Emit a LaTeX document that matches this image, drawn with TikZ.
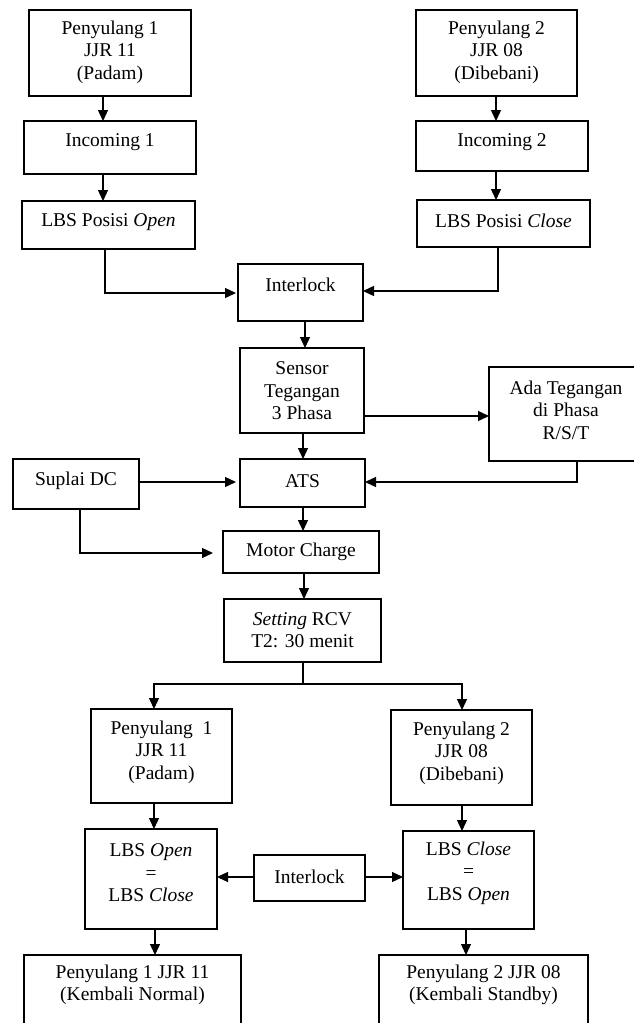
\documentclass[tikz,border=0pt]{standalone}
\usepackage{fontspec}
\setmainfont{Liberation Serif}
\usetikzlibrary{arrows.meta}
\newcommand\mybox[7]{%
 \pgfmathsetmacro\mbw{#4-#2}\pgfmathsetmacro\mbh{#5-#3}%
 \pgfmathsetmacro\mcx{(#2+#4)/2}\pgfmathsetmacro\mcy{(#3+#5)/2}%
 \node[box,minimum width=\mbw pt,minimum height=\mbh pt] (#1) at (\mcx,\mcy) {};%
 \node[txt] (#1t) at (\mcx,#6) {#7};}
\begin{document}
\begin{tikzpicture}[x=1pt,y=-1pt,
  box/.style={draw,line width=1.3pt,inner sep=0pt,outer sep=0pt,rectangle},
  txt/.style={align=center,inner sep=0pt,font=\fontsize{19.5}{22.5}\selectfont},
  arr/.style={line width=1.3pt,-{Triangle[length=11pt,width=10pt]}},
  ln/.style={line width=1.3pt}]
\useasboundingbox[fill=white] (0,0) rectangle (633,1023);
% top
\mybox{P1}{29}{10}{191}{96}{52}{Penyulang 1\\JJR 11\\(Padam)}
\mybox{In1}{24}{121}{196}{174}{142}{Incoming 1}
\mybox{LBSo}{22}{201}{195}{249}{222}{LBS Posisi \textit{Open}}
\mybox{P2}{416}{10}{577}{96}{52}{Penyulang 2\\JJR 08\\(Dibebani)}
\mybox{In2}{416}{121}{588}{171}{142}{Incoming 2}
\mybox{LBSc}{417}{200}{590}{247}{221}{LBS Posisi \textit{Close}}
\mybox{IL}{238}{264}{363}{321}{285}{Interlock}
\mybox{Sens}{240}{348}{364}{433}{391}{Sensor\\Tegangan\\3 Phasa}
\mybox{Ada}{489}{367}{643}{461}{410}{Ada Tegangan\\di Phasa\\R/S/T}
\mybox{Sup}{13}{459}{139}{509}{481}{Suplai DC}
\mybox{ATS}{240}{459}{365}{507}{481}{ATS}
\mybox{MC}{223}{531}{379}{573}{552}{Motor Charge}
\mybox{Set}{224}{599}{381}{662}{630}{\textit{Setting} RCV\\T2: 30 menit}
\mybox{P1L}{91}{709}{232}{803}{752}{Penyulang \ 1\\JJR 11\\(Padam)}
\mybox{P2L}{391}{710}{532}{805}{753}{Penyulang 2\\JJR 08\\(Dibebani)}
\mybox{LO}{85}{829}{217}{929}{873}{LBS \textit{Open}\\=\\LBS \textit{Close}}
\mybox{IL2}{254}{855}{365}{901}{877}{Interlock}
\mybox{LC}{403}{831}{534}{929}{873}{LBS \textit{Close}\\=\\LBS \textit{Open}}
\mybox{B1}{24}{955}{241}{1045}{985}{Penyulang 1 JJR 11\\(Kembali Normal)}
\mybox{B2}{379}{955}{588}{1045}{985}{Penyulang 2 JJR 08\\(Kembali Standby)}
% helper coordinates
\coordinate (x103) at (103,0);
\coordinate (x105) at (105,0);
\coordinate (x496) at (496,0);
\coordinate (x498) at (498,0);
\coordinate (x305) at (305,0);
\coordinate (x303) at (303,0);
\coordinate (x304) at (304,0);
\coordinate (x80) at (80,0);
\coordinate (x577) at (577,0);
\coordinate (x154) at (154,0);
\coordinate (x155) at (155,0);
\coordinate (x462) at (462,0);
\coordinate (x466) at (466,0);
\coordinate (y293) at (0,293);
\coordinate (y291) at (0,291);
\coordinate (y416) at (0,416);
\coordinate (y482) at (0,482);
\coordinate (y553) at (0,553);
\coordinate (y877) at (0,877);
\coordinate (split) at (303,684);
% connectors
\draw[arr] (P1.south -| x103) -- (In1.north -| x103);
\draw[arr] (In1.south -| x103) -- (LBSo.north -| x103);
\draw[arr] (P2.south -| x496) -- (In2.north -| x496);
\draw[arr] (In2.south -| x496) -- (LBSc.north -| x496);
\draw[arr,shorten >=2pt] (LBSo.south -| x105) |- (IL.west |- y293);
\draw[arr] (LBSc.south -| x498) |- (IL.east |- y291);
\draw[arr] (IL.south -| x305) -- (Sens.north -| x305);
\draw[arr] (Sens.east |- y416) -- (Ada.west |- y416);
\draw[arr] (Sens.south -| x303) -- (ATS.north -| x303);
\draw[arr,shorten >=4pt] (Sup.east |- y482) -- (ATS.west |- y482);
\draw[arr] (Ada.south -| x577) |- (ATS.east |- y482);
\draw[arr,shorten >=10pt] (Sup.south -| x80) |- (MC.west |- y553);
\draw[arr] (ATS.south -| x303) -- (MC.north -| x303);
\draw[arr] (MC.south -| x304) -- (Set.north -| x304);
\draw[ln] (Set.south -| split) -- (split);
\draw[arr] (split) -| (P1L.north -| x154);
\draw[arr] (split) -| (P2L.north -| x462);
\draw[arr] (P1L.south -| x154) -- (LO.north -| x154);
\draw[arr] (P2L.south -| x462) -- (LC.north -| x462);
\draw[arr] (IL2.west |- y877) -- (LO.east |- y877);
\draw[arr] (IL2.east |- y877) -- (LC.west |- y877);
\draw[arr] (LO.south -| x155) -- (B1.north -| x155);
\draw[arr] (LC.south -| x466) -- (B2.north -| x466);
\end{tikzpicture}
\end{document}
